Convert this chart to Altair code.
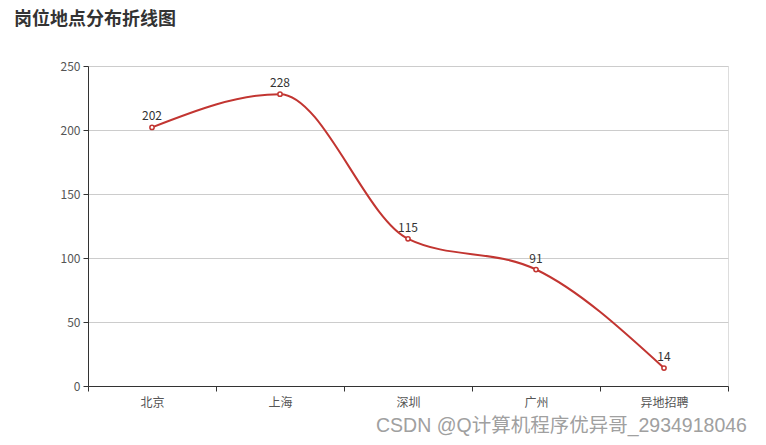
import altair as alt
import pandas as pd

cities = ["北京", "上海", "深圳", "广州", "异地招聘"]
counts = [202, 228, 115, 91, 14]
title_text = "岗位地点分布折线图"
watermark = "CSDN @Q计算机程序优异哥_2934918046"

df = pd.DataFrame({"city": cities, "count": counts})

FONT = "Noto Sans CJK SC"
RED = "#c23531"

x = alt.X("city:N", sort=cities, title=None,
          scale=alt.Scale(type="band", paddingInner=0, paddingOuter=0),
          axis=alt.Axis(labelAngle=0, tickBand="extent", domainColor="#333",
                        tickColor="#333", tickSize=5, labelPadding=6,
                        labelColor="#555", labelFontSize=12, labelFont=FONT,
                        grid=False, domainWidth=1))
y = alt.Y("count:Q", title=None,
          scale=alt.Scale(domain=[0, 250], nice=False),
          axis=alt.Axis(values=[0, 50, 100, 150, 200, 250], domainColor="#333",
                        tickColor="#333", tickSize=5, labelPadding=3,
                        labelColor="#555", labelFontSize=12, labelFont=FONT,
                        gridColor="#cccccc", grid=True))

base = alt.Chart(df)

line = base.mark_line(color=RED, strokeWidth=2, interpolate="monotone").encode(x=x, y=y)
pts = base.mark_point(shape="circle", size=18, filled=True, fill="white",
                      stroke=RED, strokeWidth=1.5, opacity=1).encode(x=x, y=y)
labels = base.mark_text(dy=-11, fontSize=12, color="#333", font=FONT).encode(
    x=x, y=y, text="count:Q")
wm = alt.Chart(pd.DataFrame({"t": [watermark]})).mark_text(
    align="left", baseline="alphabetic", fontSize=19.5, color="#a0a0a0",
    font="Liberation Sans, Noto Sans CJK SC").encode(
    x=alt.value(288), y=alt.value(366), text="t:N")

chart = alt.layer(line, pts, labels, wm).properties(
    width=640, height=320,
    title=alt.TitleParams(title_text, anchor="start", frame="group", dx=-74, offset=31,
                          fontSize=18, fontWeight="bold", color="#333", font=FONT),
    autosize=alt.AutoSizeParams(type="none"),
    padding={"left": 88, "top": 66, "right": 38, "bottom": 59},
).configure_view(stroke=None).configure(background="white")

chart.save("out.html", embed_options={"renderer": "svg", "actions": False})
